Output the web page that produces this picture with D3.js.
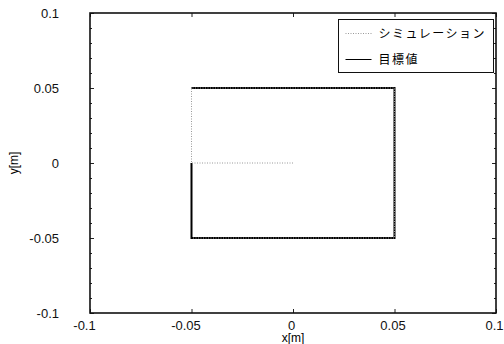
<!DOCTYPE html>
<html>
<head>
<meta charset="utf-8">
<script src="https://cdn.jsdelivr.net/npm/d3@7"></script>
<style>
  body { margin: 0; background: #fff; }
  text { font-family: "Liberation Sans", Arial, sans-serif; }
</style>
</head>
<body>
<div id="chart"></div>
<script>
// simulation trajectory (dotted) and target path (solid)
const simX = [0, -0.05, -0.05, 0.05, 0.05, -0.05];
const simY = [0, 0, 0.05, 0.05, -0.05, -0.05];
const targetX = [-0.05, -0.05, 0.05, 0.05, -0.05];
const targetY = [0, -0.05, -0.05, 0.05, 0.05];

const xTicks = [-0.1, -0.05, 0, 0.05, 0.1];
const yTicks = [-0.1, -0.05, 0, 0.05, 0.1];
const yMinor = d3.range(-10, 11).map(d => d / 100);
const seriesNames = ["シミュレーション", "目標値"];

const W = 504, H = 344;
const margin = {top: 13, right: 8, bottom: 31, left: 90};
const width = W - margin.left - margin.right,
    height = H - margin.top - margin.bottom;

const svg = d3.select("#chart")
    .append("svg")
    .attr("width", W)
    .attr("height", H);

const chart = svg.append("g")
    .attr("transform", `translate(${margin.left}, ${margin.top})`);

const x = d3.scaleLinear().domain([-0.1, 0.1]).range([0, width]);
const y = d3.scaleLinear().domain([-0.1, 0.1]).range([height, 0]);

const fmt = d => d === 0 ? "0" : String(d);

// inward ticks on all four sides
chart.append("g")
    .attr("transform", `translate(0, ${height})`)
    .call(d3.axisBottom(x).tickValues(xTicks).tickSize(-4).tickPadding(8).tickFormat(fmt))
    .call(g => g.select(".domain").remove())
    .call(g => g.selectAll(".tick text").attr("dx", d => d < 0 ? -6 : -2));

chart.append("g")
    .call(d3.axisTop(x).tickValues(xTicks).tickSize(-4).tickFormat(""))
    .call(g => g.select(".domain").remove());

chart.append("g")
    .call(d3.axisLeft(y).tickValues(yMinor).tickSize(-2).tickFormat(""))
    .call(g => g.select(".domain").remove());

chart.append("g")
    .call(d3.axisLeft(y).tickValues(yTicks).tickSize(-4).tickPadding(31).tickFormat(fmt))
    .call(g => g.select(".domain").remove());

chart.append("g")
    .attr("transform", `translate(${width}, 0)`)
    .call(d3.axisRight(y).tickValues(yMinor).tickSize(-2).tickFormat(""))
    .call(g => g.select(".domain").remove());

chart.append("g")
    .attr("transform", `translate(${width}, 0)`)
    .call(d3.axisRight(y).tickValues(yTicks).tickSize(-4).tickFormat(""))
    .call(g => g.select(".domain").remove());

chart.selectAll(".tick line").attr("stroke", "#222");
chart.selectAll(".tick text")
    .style("font-size", "13px")
    .attr("fill", "#111");

// frame
chart.append("rect")
    .attr("width", width)
    .attr("height", height)
    .attr("fill", "none")
    .attr("stroke", "#111")
    .attr("stroke-width", 1.6);

const line = d3.line()
    .x(d => x(d[0]))
    .y(d => y(d[1]));

const target = targetX.map((v, i) => [v, targetY[i]]);
const sim = simX.map((v, i) => [v, simY[i]]);

chart.append("path")
    .datum(target)
    .attr("d", line)
    .attr("fill", "none")
    .attr("stroke", "#000")
    .attr("stroke-width", 2);

chart.append("path")
    .datum(sim)
    .attr("d", line)
    .attr("fill", "none")
    .attr("stroke", "#999")
    .attr("stroke-width", 1)
    .attr("stroke-dasharray", "1,1.5");

// axis titles
svg.append("text")
    .attr("x", margin.left + x(0))
    .attr("y", 342)
    .attr("text-anchor", "middle")
    .style("font-size", "12px")
    .text("x[m]");

svg.append("text")
    .attr("transform", `translate(18, ${margin.top + y(0)}) rotate(-90)`)
    .attr("text-anchor", "middle")
    .style("font-size", "12px")
    .text("y[m]");

// legend
const legend = svg.append("g").attr("transform", "translate(338.5, 19.5)");
legend.append("rect")
    .attr("width", 155)
    .attr("height", 53)
    .attr("fill", "#fff")
    .attr("stroke", "#111")
    .attr("stroke-width", 1);

const items = legend.selectAll(".item")
    .data(seriesNames)
    .enter()
    .append("g")
    .attr("transform", (d, i) => `translate(0, ${14 + i * 26})`);

items.append("line")
    .attr("x1", 7)
    .attr("x2", 33)
    .attr("stroke", (d, i) => i === 0 ? "#999" : "#000")
    .attr("stroke-width", 1)
    .attr("stroke-dasharray", (d, i) => i === 0 ? "1,1.5" : null);

items.append("text")
    .attr("x", 40)
    .attr("dy", "0.35em")
    .style("font-family", "'Noto Sans CJK JP', sans-serif")
    .style("font-size", "12px")
    .style("letter-spacing", "1.5px")
    .text(d => d);
</script>
</body>
</html>
